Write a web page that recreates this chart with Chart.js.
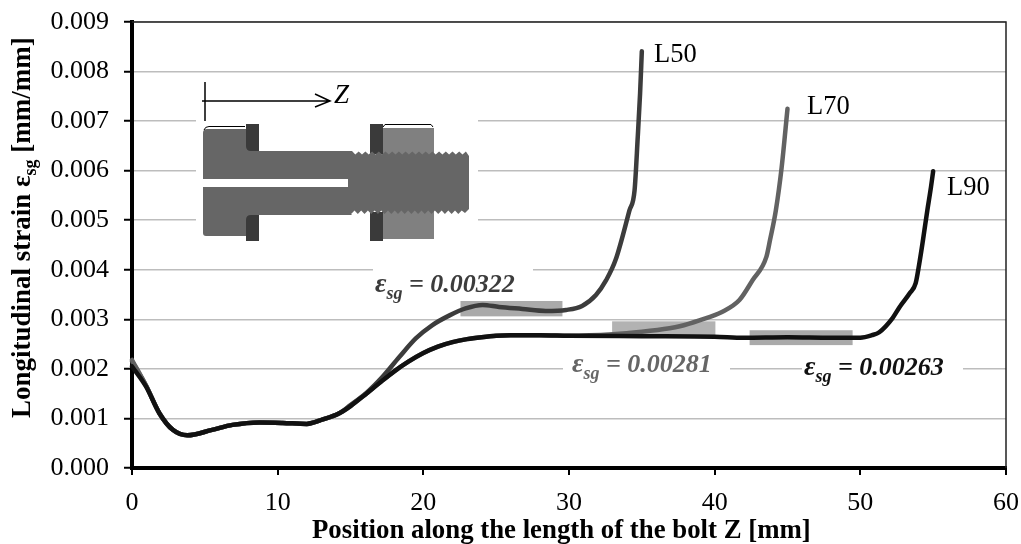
<!DOCTYPE html>
<html>
<head>
<meta charset="utf-8">
<style>
  html, body { margin: 0; padding: 0; background: #fff; }
  canvas { display: block; }
</style>
<script src="https://cdn.jsdelivr.net/npm/chart.js@4"></script>
</head>
<body>
<canvas id="strainChart" width="1021" height="544"></canvas>
<script>
const SERIF = '"Liberation Serif", "Times New Roman", serif';

const xTicks = [0, 10, 20, 30, 40, 50, 60];
const yTicks = [0, 0.001, 0.002, 0.003, 0.004, 0.005, 0.006, 0.007, 0.008, 0.009];

const seriesNames = ['L50', 'L70', 'L90'];
const seriesColors = ['#3c3c3c', '#626262', '#111111'];

const xL50 = [0, 0.97, 1.89, 2.8, 3.8, 5.5, 6.9, 8.75, 10.35, 12, 13.1, 14.2, 15, 16.07, 17.2, 18.35, 19.5, 20.6, 21.8, 22.9, 24.07, 25.2, 26.8, 28.4, 29.8, 30.9, 31.85, 32.55, 33.2, 34.15, 34.5, 34.72, 34.88, 35];
const yL50 = [0.00215, 0.00166, 0.0011, 0.00077, 0.00066, 0.00077, 0.00087, 0.00092, 0.00091, 0.00089, 0.00098, 0.0011, 0.00127, 0.00151, 0.00184, 0.00224, 0.00262, 0.00288, 0.00308, 0.00322, 0.00329, 0.00325, 0.00321, 0.00317, 0.00319, 0.00327, 0.00349, 0.00379, 0.0042, 0.0052, 0.0056, 0.00668, 0.00756, 0.00841];

const xL70 = [0, 0.97, 1.89, 2.8, 3.8, 5.5, 6.9, 8.75, 10.35, 12, 13.1, 14.2, 15, 16, 17, 18, 19, 20, 21, 22, 23, 24, 25, 26, 28, 30, 33, 35, 36.9, 37.6, 38.95, 40.5, 41.7, 42.6, 43.55, 43.8, 44.2, 44.6, 45];
const yL70 = [0.00218, 0.00166, 0.0011, 0.00077, 0.00066, 0.00077, 0.00087, 0.00092, 0.00091, 0.00089, 0.00098, 0.0011, 0.00125, 0.00148, 0.00172, 0.00195, 0.00215, 0.00232, 0.00245, 0.00254, 0.0026, 0.00264, 0.00267, 0.00268, 0.00268, 0.00267, 0.0027, 0.00275, 0.00282, 0.00286, 0.00298, 0.00315, 0.00339, 0.00379, 0.00426, 0.0046, 0.0052, 0.00607, 0.00725];

const xL90 = [0, 0.97, 1.89, 2.8, 3.8, 5.5, 6.9, 8.75, 10.35, 12, 13.1, 14.2, 15, 16, 17, 18, 19, 20, 21, 22, 23, 24, 25, 26, 28, 30, 35, 40, 42, 45, 48, 50, 50.8, 51.3, 52.2, 52.7, 53.4, 53.8, 54.05, 54.3, 54.6, 54.85, 55];
const yL90 = [0.00205, 0.00164, 0.0011, 0.00077, 0.00066, 0.00077, 0.00087, 0.00092, 0.00091, 0.00089, 0.00098, 0.0011, 0.00125, 0.00148, 0.00172, 0.00195, 0.00215, 0.00232, 0.00245, 0.00254, 0.0026, 0.00264, 0.00267, 0.00268, 0.00268, 0.00267, 0.00266, 0.00265, 0.00263, 0.00264, 0.00263, 0.00263, 0.00268, 0.00274, 0.00302, 0.00325, 0.00353, 0.00373, 0.00413, 0.0046, 0.0052, 0.00567, 0.00599];

// shaded ranges where the plateau strain was averaged
const bandX = [[22.55, 29.55], [32.96, 40.05], [42.4, 49.47]];
const bandY = [[0.00306, 0.00337], [0.00266, 0.00296], [0.00248, 0.00278]];
const bandColors = ['#aaaaaa', '#b2b2b2', '#aaaaaa'];

const strainLabels = ['0.00322', '0.00281', '0.00263'];
const strainColors = ['#3c3c3c', '#666666', '#111111'];

function toPoints(xs, ys) {
    return xs.map((x, i) => ({ x: x, y: ys[i] }));
}

// text made of several runs with different fonts, drawn left to right
function drawRuns(ctx, x, y, runs) {
    let cx = x;
    runs.forEach(r => {
        ctx.font = r.font;
        ctx.fillText(r.text, cx, y + (r.dy || 0));
        cx += ctx.measureText(r.text).width;
    });
}

function strainRuns(value) {
    return [
        { text: 'ε', font: 'italic bold 28px ' + SERIF },
        { text: 'sg', font: 'italic bold 18px ' + SERIF, dy: 7 },
        { text: ' = ' + value, font: 'italic bold 26px ' + SERIF }
    ];
}

// the scales may not reserve extra room for overhanging tick labels
function dropScalePadding(scale) {
    scale.paddingLeft = 0;
    scale.paddingRight = 0;
    scale.paddingTop = 0;
    scale.paddingBottom = 0;
}

function drawBolt(ctx) {
    ctx.save();
    // white patch behind the picture
    ctx.fillStyle = '#fff';
    ctx.fillRect(196, 112, 282, 130);

    // Z arrow
    ctx.strokeStyle = '#000';
    ctx.lineWidth = 1.5;
    ctx.beginPath();
    ctx.moveTo(205, 82); ctx.lineTo(205, 121);
    ctx.moveTo(202, 101); ctx.lineTo(330, 101);
    ctx.moveTo(315, 94); ctx.lineTo(330, 101); ctx.lineTo(315, 107);
    ctx.stroke();
    ctx.fillStyle = '#000';
    ctx.font = 'italic 27px ' + SERIF;
    ctx.textAlign = 'left';
    ctx.textBaseline = 'alphabetic';
    ctx.fillText('Z', 334, 103);

    // nut
    ctx.fillStyle = '#808080';
    ctx.fillRect(382, 128, 52, 111);
    ctx.strokeStyle = '#000';
    ctx.lineWidth = 1;
    ctx.beginPath();
    ctx.moveTo(383, 127); ctx.lineTo(385, 124.5); ctx.lineTo(431, 124.5); ctx.lineTo(433, 127);
    ctx.stroke();

    // washers
    ctx.fillStyle = '#3a3a3a';
    [246, 370].forEach(x => {
        ctx.fillRect(x, 124, 13, 30);
        ctx.fillRect(x, 212, 13, 29);
    });

    // bolt head, shank and thread
    ctx.fillStyle = '#666666';
    ctx.beginPath();
    ctx.moveTo(207, 129);
    ctx.lineTo(246, 129);
    ctx.lineTo(246, 146);
    ctx.quadraticCurveTo(246, 151, 251, 151);
    ctx.lineTo(352, 151);
    for (let x = 352; x < 465; x += 6.7) {
        ctx.lineTo(x + 3.3, 154.5);
        ctx.lineTo(x + 6.7, 151.5);
    }
    ctx.lineTo(469, 156);
    ctx.lineTo(469, 209);
    ctx.lineTo(465, 213);
    for (let x = 465; x > 352; x -= 6.7) {
        ctx.lineTo(x - 3.3, 210.5);
        ctx.lineTo(x - 6.7, 214);
    }
    ctx.lineTo(352, 215);
    ctx.lineTo(251, 215);
    ctx.quadraticCurveTo(246, 215, 246, 220);
    ctx.lineTo(246, 236);
    ctx.lineTo(206, 236);
    ctx.quadraticCurveTo(203, 236, 203, 233);
    ctx.lineTo(203, 133);
    ctx.quadraticCurveTo(203, 129, 207, 129);
    ctx.closePath();
    ctx.fill();

    // thin outline over the head
    ctx.strokeStyle = '#000';
    ctx.lineWidth = 1;
    ctx.beginPath();
    ctx.moveTo(204, 130); ctx.quadraticCurveTo(205, 126.5, 209, 126.5); ctx.lineTo(245, 126.5);
    ctx.stroke();

    // strain gauge slot
    ctx.fillStyle = '#fff';
    ctx.fillRect(203, 179, 145, 8);
    ctx.restore();
}

const annotations = {
    id: 'annotations',
    beforeDatasetsDraw(chart) {
        const ctx = chart.ctx;
        const xs = chart.scales.x;
        const ys = chart.scales.y;

        ctx.save();
        // white patches that interrupt the gridlines behind the labels
        ctx.fillStyle = '#fff';
        ctx.fillRect(373, ys.getPixelForValue(0.004) - 8, 160, 16);
        ctx.fillRect(563, ys.getPixelForValue(0.002) - 8, 167, 16);
        ctx.fillRect(802, ys.getPixelForValue(0.002) - 8, 161, 16);

        bandX.forEach((b, i) => {
            const left = xs.getPixelForValue(b[0]);
            const right = xs.getPixelForValue(b[1]);
            const top = ys.getPixelForValue(bandY[i][1]);
            const bottom = ys.getPixelForValue(bandY[i][0]);
            ctx.fillStyle = bandColors[i];
            ctx.fillRect(left, top, right - left, bottom - top);
        });
        ctx.restore();

        drawBolt(ctx);
    },
    afterDraw(chart) {
        const ctx = chart.ctx;
        const a = chart.chartArea;

        ctx.save();
        // thin frame on top and right
        ctx.strokeStyle = '#222';
        ctx.lineWidth = 1.5;
        ctx.beginPath();
        ctx.moveTo(a.left, a.top);
        ctx.lineTo(a.right, a.top);
        ctx.lineTo(a.right, a.bottom);
        ctx.stroke();

        ctx.textAlign = 'left';
        ctx.textBaseline = 'alphabetic';

        // strain values
        ctx.fillStyle = strainColors[0];
        drawRuns(ctx, 375, 292, strainRuns(strainLabels[0]));
        ctx.fillStyle = strainColors[1];
        drawRuns(ctx, 572, 372, strainRuns(strainLabels[1]));
        ctx.fillStyle = strainColors[2];
        drawRuns(ctx, 804, 375, strainRuns(strainLabels[2]));

        // curve names
        ctx.fillStyle = '#000';
        ctx.font = '26.5px ' + SERIF;
        ctx.fillText(seriesNames[0], 654, 62);
        ctx.fillText(seriesNames[1], 807, 114);
        ctx.fillText(seriesNames[2], 947, 195);

        // x axis title, not centred on the plot in the original
        ctx.font = 'bold 26.8px ' + SERIF;
        ctx.fillText('Position along the length of the bolt Z [mm]', 312, 538);

        // y axis title with subscript
        ctx.translate(30, 418);
        ctx.rotate(-Math.PI / 2);
        drawRuns(ctx, 0, 0, [
            { text: 'Longitudinal strain ε', font: 'bold 27px ' + SERIF },
            { text: 'sg', font: 'bold 18px ' + SERIF, dy: 6 },
            { text: ' [mm/mm]', font: 'bold 27px ' + SERIF }
        ]);
        ctx.restore();
    }
};

new Chart(document.getElementById('strainChart').getContext('2d'), {
    type: 'scatter',
    data: {
        datasets: [
            { label: seriesNames[0], data: toPoints(xL50, yL50), borderColor: seriesColors[0], order: 2 },
            { label: seriesNames[1], data: toPoints(xL70, yL70), borderColor: seriesColors[1], order: 1 },
            { label: seriesNames[2], data: toPoints(xL90, yL90), borderColor: seriesColors[2], order: 0 }
        ].map(d => Object.assign(d, {
            showLine: true,
            fill: false,
            borderWidth: 4.5,
            borderCapStyle: 'round',
            pointRadius: 0,
            cubicInterpolationMode: 'monotone'
        }))
    },
    options: {
        responsive: false,
        animation: false,
        clip: false,
        layout: { padding: { top: 22, right: 15, left: 0, bottom: 0 } },
        plugins: { legend: { display: false }, tooltip: { enabled: false } },
        scales: {
            x: {
                type: 'linear',
                min: 0,
                max: 60,
                afterBuildTicks(scale) { scale.ticks = xTicks.map(v => ({ value: v })); },
                afterFit(scale) { scale.height = 76; dropScalePadding(scale); },
                border: { display: true, color: '#000', width: 4 },
                grid: { drawOnChartArea: false, color: '#000', tickColor: '#000', tickLength: 7, lineWidth: 2 },
                ticks: {
                    color: '#000',
                    font: { family: SERIF, size: 26 },
                    padding: 13,
                    maxRotation: 0
                }
            },
            y: {
                type: 'linear',
                min: 0,
                max: 0.009,
                afterBuildTicks(scale) { scale.ticks = yTicks.map(v => ({ value: v })); },
                afterFit(scale) { scale.width = 132; dropScalePadding(scale); },
                border: { display: true, color: '#000', width: 4 },
                grid: { color: '#bdbdbd', lineWidth: 1.5, tickColor: '#000', tickWidth: 2, tickLength: 8 },
                ticks: {
                    color: '#000',
                    font: { family: SERIF, size: 26 },
                    padding: 15,
                    callback: v => v.toFixed(3)
                }
            }
        }
    },
    plugins: [annotations]
});
</script>
</body>
</html>
